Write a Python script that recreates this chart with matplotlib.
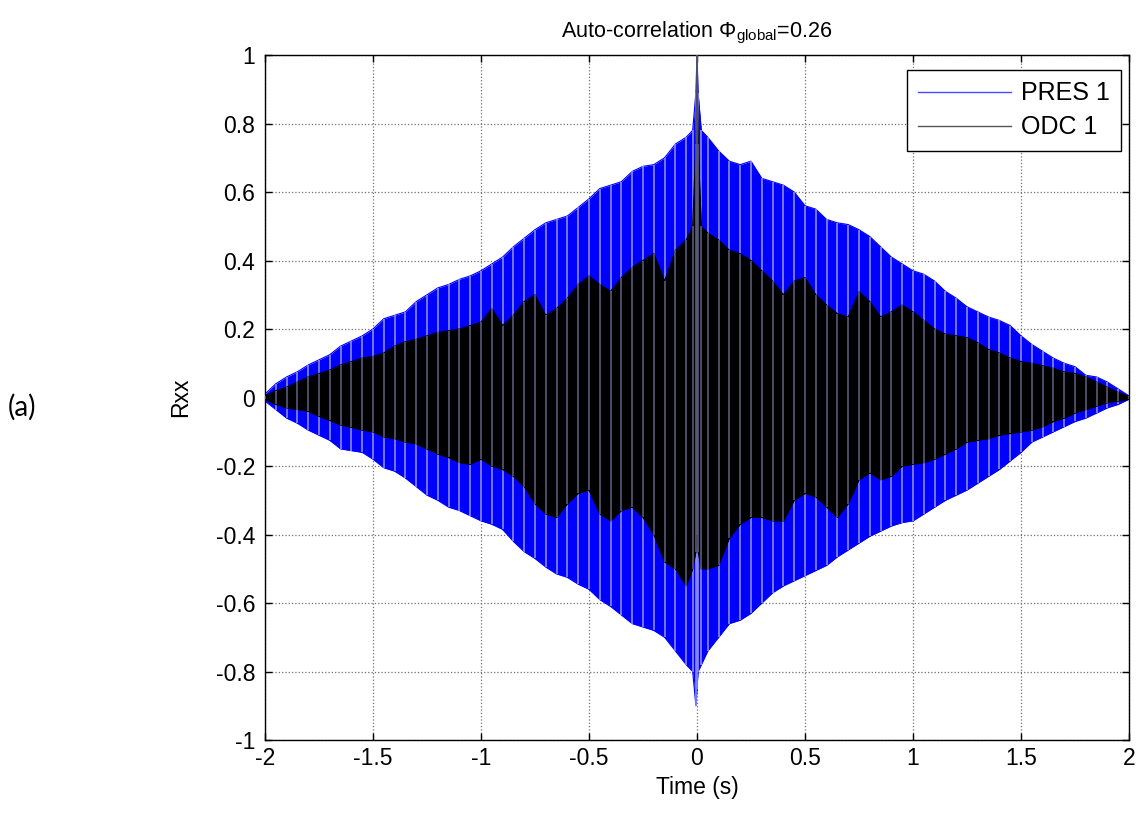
import matplotlib
matplotlib.use('Agg')
import matplotlib.pyplot as plt
from matplotlib.lines import Line2D

# ---- data (envelopes of the dense oscillations) ----
t = [-2.00, -1.95, -1.90, -1.85, -1.80, -1.75, -1.70, -1.65, -1.60, -1.55,
     -1.50, -1.45, -1.40, -1.35, -1.30, -1.25, -1.20, -1.15, -1.10, -1.05,
     -1.00, -0.95, -0.90, -0.85, -0.80, -0.75, -0.70, -0.65, -0.60, -0.55,
     -0.50, -0.45, -0.40, -0.35, -0.30, -0.25, -0.20, -0.15, -0.10, -0.05,
     -0.02, -0.005, 0.0, 0.005, 0.02,
     0.05, 0.10, 0.15, 0.20, 0.25, 0.30, 0.35, 0.40, 0.45, 0.50,
     0.55, 0.60, 0.65, 0.70, 0.75, 0.80, 0.85, 0.90, 0.95, 1.00,
     1.05, 1.10, 1.15, 1.20, 1.25, 1.30, 1.35, 1.40, 1.45, 1.50,
     1.55, 1.60, 1.65, 1.70, 1.75, 1.80, 1.85, 1.90, 1.95, 2.00]

pres_upper = [0.01, 0.04, 0.06, 0.075, 0.095, 0.11, 0.125, 0.15, 0.165, 0.18,
              0.20, 0.23, 0.24, 0.25, 0.28, 0.30, 0.32, 0.33, 0.345, 0.355,
              0.37, 0.39, 0.41, 0.44, 0.465, 0.49, 0.51, 0.52, 0.53, 0.555,
              0.58, 0.61, 0.62, 0.63, 0.66, 0.675, 0.68, 0.70, 0.74, 0.76,
              0.78, 0.89, 1.0, 0.89, 0.78,
              0.76, 0.72, 0.69, 0.68, 0.69, 0.64, 0.63, 0.62, 0.60, 0.56,
              0.55, 0.52, 0.51, 0.505, 0.49, 0.47, 0.44, 0.41, 0.39, 0.37,
              0.36, 0.34, 0.31, 0.29, 0.265, 0.25, 0.235, 0.225, 0.21, 0.18,
              0.155, 0.135, 0.115, 0.10, 0.09, 0.065, 0.06, 0.045, 0.025, 0.005]

pres_lower = [-0.01, -0.035, -0.06, -0.075, -0.095, -0.11, -0.125, -0.15, -0.155, -0.16,
              -0.18, -0.205, -0.215, -0.235, -0.26, -0.285, -0.30, -0.32, -0.33, -0.345,
              -0.36, -0.37, -0.385, -0.42, -0.45, -0.47, -0.495, -0.515, -0.525, -0.545,
              -0.56, -0.59, -0.61, -0.635, -0.66, -0.67, -0.68, -0.70, -0.74, -0.78,
              -0.80, -0.90, -0.85, -0.80, -0.78,
              -0.74, -0.70, -0.66, -0.65, -0.63, -0.60, -0.57, -0.55, -0.535, -0.52,
              -0.505, -0.49, -0.465, -0.445, -0.425, -0.405, -0.39, -0.375, -0.365, -0.36,
              -0.34, -0.32, -0.30, -0.285, -0.27, -0.25, -0.23, -0.21, -0.185, -0.16,
              -0.13, -0.115, -0.10, -0.085, -0.07, -0.06, -0.045, -0.03, -0.02, -0.005]

odc_upper = [0.005, 0.02, 0.03, 0.045, 0.06, 0.07, 0.08, 0.095, 0.105, 0.115,
             0.12, 0.13, 0.15, 0.163, 0.17, 0.18, 0.19, 0.195, 0.20, 0.21,
             0.22, 0.26, 0.21, 0.24, 0.28, 0.30, 0.24, 0.26, 0.29, 0.33,
             0.355, 0.33, 0.31, 0.35, 0.38, 0.40, 0.42, 0.34, 0.43, 0.46,
             0.50, 0.74, 1.0, 0.74, 0.50,
             0.48, 0.46, 0.43, 0.42, 0.40, 0.37, 0.34, 0.30, 0.34, 0.35,
             0.30, 0.27, 0.245, 0.235, 0.31, 0.28, 0.235, 0.25, 0.27, 0.25,
             0.225, 0.20, 0.185, 0.18, 0.175, 0.16, 0.14, 0.13, 0.115, 0.105,
             0.10, 0.093, 0.085, 0.075, 0.07, 0.06, 0.045, 0.03, 0.015, 0.003]

odc_lower = [-0.005, -0.02, -0.03, -0.035, -0.04, -0.055, -0.067, -0.08, -0.087, -0.095,
             -0.10, -0.115, -0.12, -0.13, -0.135, -0.15, -0.165, -0.175, -0.19, -0.195,
             -0.18, -0.20, -0.21, -0.23, -0.26, -0.31, -0.34, -0.35, -0.31, -0.28,
             -0.27, -0.34, -0.36, -0.33, -0.32, -0.35, -0.40, -0.48, -0.50, -0.55,
             -0.50, -0.45, -0.40, -0.45, -0.50,
             -0.50, -0.49, -0.41, -0.37, -0.35, -0.35, -0.36, -0.36, -0.30, -0.28,
             -0.29, -0.32, -0.35, -0.31, -0.24, -0.22, -0.24, -0.23, -0.20, -0.195,
             -0.19, -0.18, -0.165, -0.15, -0.13, -0.125, -0.12, -0.11, -0.105, -0.10,
             -0.095, -0.085, -0.07, -0.06, -0.045, -0.035, -0.025, -0.015, -0.01, -0.005]

series_labels = ['PRES 1', 'ODC 1']
xticks = [-2, -1.5, -1, -0.5, 0, 0.5, 1, 1.5, 2]
xticklabels = ['-2', '-1.5', '-1', '-0.5', '0', '0.5', '1', '1.5', '2']
yticks = [-1, -0.8, -0.6, -0.4, -0.2, 0, 0.2, 0.4, 0.6, 0.8, 1]
yticklabels = ['-1', '-0.8', '-0.6', '-0.4', '-0.2', '0', '0.2', '0.4', '0.6', '0.8', '1']

# ---- styling ----
plt.rcParams['font.family'] = ['Liberation Sans', 'DejaVu Sans']
plt.rcParams['mathtext.fontset'] = 'custom'
plt.rcParams['mathtext.rm'] = 'Liberation Sans'
plt.rcParams['mathtext.it'] = 'Liberation Sans:italic'
plt.rcParams['mathtext.sf'] = 'Liberation Sans'

BLUE = '#0000ff'
BLUE_LIGHT = '#8a8aff'
BLACK = '#000000'
BLACK_LIGHT = '#5a5a7a'
FS = 16.5

fig = plt.figure(figsize=(11.44, 8.14), dpi=100)
ax = fig.add_axes([0.2316, 0.0909, 0.7553, 0.8415])

# PRES 1
ax.fill_between(t, pres_lower, pres_upper, color=BLUE, lw=0, zorder=2)
ax.plot(t, pres_upper, color=BLUE, lw=0.8, zorder=2)
ax.plot(t, pres_lower, color=BLUE, lw=0.8, zorder=2)
ax.vlines(t, pres_lower, pres_upper, color=BLUE_LIGHT, lw=1.2, zorder=2.1)

# ODC 1
ax.fill_between(t, odc_lower, odc_upper, color=BLACK, lw=0, zorder=3)
ax.plot(t, odc_upper, color=BLACK, lw=0.8, zorder=3)
ax.plot(t, odc_lower, color=BLACK, lw=0.8, zorder=3)
ax.vlines(t, odc_lower, odc_upper, color=BLACK_LIGHT, lw=1.2, zorder=3.1)

ax.set_xlim(-2, 2)
ax.set_ylim(-1, 1)
ax.set_xticks(xticks)
ax.set_xticklabels(xticklabels)
ax.set_yticks(yticks)
ax.set_yticklabels(yticklabels)
ax.tick_params(direction='in', length=5, width=1, top=True, right=True,
               labelsize=FS, colors='black')
ax.tick_params(axis='x', pad=5)
ax.tick_params(axis='y', pad=7)
ax.grid(True, linestyle=':', color='#707070', linewidth=0.9)
ax.set_axisbelow(True)
for s in ax.spines.values():
    s.set_linewidth(1.0)
    s.set_color('black')

ax.set_xlabel('Time (s)', fontsize=FS, labelpad=4)
ax.set_ylabel('Rxx', fontsize=FS, labelpad=17)
ax.set_title(r'Auto-correlation $\Phi_{\mathrm{global}}$=0.26', fontsize=15.5, pad=13)

fig.text(22 / 1144, 1 - 407 / 814, '(a)', fontsize=20, family=['Lato', 'DejaVu Sans'],
         ha='center', va='center')

handles = [Line2D([], [], color='#4a4aff', lw=1.0), Line2D([], [], color='#555555', lw=1.0)]
leg = ax.legend(handles, series_labels, loc='upper right',
                bbox_to_anchor=((1121 - 265) / 864, (740 - 70) / 685),
                borderaxespad=0, fancybox=False, framealpha=1, edgecolor='black',
                fontsize=18, handlelength=3.7, handletextpad=0.4, borderpad=0.45,
                labelspacing=0.4)
leg.get_frame().set_linewidth(1.0)

fig.savefig('out.png', dpi=100)
